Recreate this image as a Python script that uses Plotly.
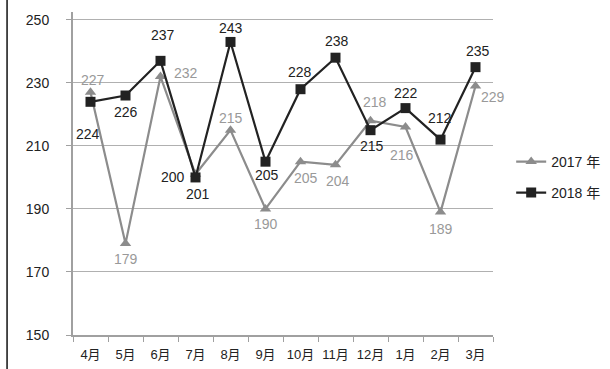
import plotly.graph_objects as go

months = ["4月", "5月", "6月", "7月", "8月", "9月", "10月", "11月", "12月", "1月", "2月", "3月"]
y2017 = [227, 179, 232, 201, 215, 190, 205, 204, 218, 216, 189, 229]
y2018 = [224, 226, 237, 200, 243, 205, 228, 238, 215, 222, 212, 235]
name2017 = "2017 年"
name2018 = "2018 年"
y_ticks = [150, 170, 190, 210, 230, 250]

# label placement styles (pixel shifts)
shift2017 = [(2, 12), (0, -15), (25, 4), (2, -20), (0, 12), (0, -15),
             (5, -16), (2, -16), (4, 19), (-4, -28), (0, -17), (17, -11)]
shift2018 = [(-3, -32), (0, -16), (2, 26), (-23, 0), (0, 14), (1, -13),
             (-1, 17), (1, 17), (1, -16), (0, 15), (-1, 22), (2, 16)]
color2017_lbl = ["#999999"] * 12
color2017_lbl[3] = "#222222"

FONT = "Liberation Sans Narrow, Liberation Sans, Arial, Noto Sans CJK SC, sans-serif"
GRAY_LINE = "#8c8c8c"
DARK = "#222222"

fig = go.Figure()
fig.add_trace(go.Scatter(
    x=months, y=y2017, name=name2017, mode="lines+markers",
    line=dict(color=GRAY_LINE, width=2.2),
    marker=dict(symbol="triangle-up", size=10, color=GRAY_LINE),
    legend="legend", showlegend=True,
))
fig.add_trace(go.Scatter(
    x=months, y=y2018, name=name2018, mode="lines+markers",
    line=dict(color=DARK, width=2.2),
    marker=dict(symbol="square", size=10, color=DARK),
    legend="legend2", showlegend=True,
))

for i, (m, v) in enumerate(zip(months, y2017)):
    fig.add_annotation(x=m, y=v, text=str(v), showarrow=False,
                       xshift=shift2017[i][0], yshift=shift2017[i][1],
                       font=dict(family=FONT, size=14, color=color2017_lbl[i]))
for i, (m, v) in enumerate(zip(months, y2018)):
    fig.add_annotation(x=m, y=v, text=str(v), showarrow=False,
                       xshift=shift2018[i][0], yshift=shift2018[i][1],
                       font=dict(family=FONT, size=14, color=DARK))

# left border line of the image
fig.add_shape(type="line", xref="paper", yref="paper",
              x0=-0.157, x1=-0.157, y0=-0.11, y1=1.04,
              line=dict(color="#111111", width=1.5))

fig.update_layout(
    width=610, height=369,
    margin=dict(l=73, r=117, t=12, b=34, autoexpand=False),
    paper_bgcolor="white", plot_bgcolor="white",
    showlegend=True,
    font=dict(family=FONT, size=14, color=DARK),
    legend=dict(xref="container", yref="container", x=0.838, xanchor="left",
                y=0.561, yanchor="middle",
                bgcolor="rgba(0,0,0,0)", font=dict(family=FONT, size=14, color=DARK)),
    legend2=dict(xref="container", yref="container", x=0.838, xanchor="left",
                 y=0.477, yanchor="middle", visible=True,
                 bgcolor="rgba(0,0,0,0)", font=dict(family=FONT, size=14, color=DARK)),
    xaxis=dict(type="category", range=[-0.5, 11.5], tickson="boundaries",
               ticks="outside", ticklen=5,
               tickcolor="#a0a0a0", showline=True, linecolor="#a0a0a0", linewidth=2,
               showgrid=False, ticklabelstandoff=6, tickangle=0, automargin=False,
               tickfont=dict(family=FONT, size=13, color=DARK)),
    yaxis=dict(range=[150, 252.5], tickvals=y_ticks, ticks="outside", ticklen=5,
               tickcolor="#a0a0a0", showline=True, linecolor="#a0a0a0", linewidth=2,
               showgrid=True, gridcolor="#b0b0b0", gridwidth=1, zeroline=False,
               ticklabelstandoff=14, automargin=False,
               tickfont=dict(family=FONT, size=14, color=DARK)),
)

fig.write_html("out.html")
